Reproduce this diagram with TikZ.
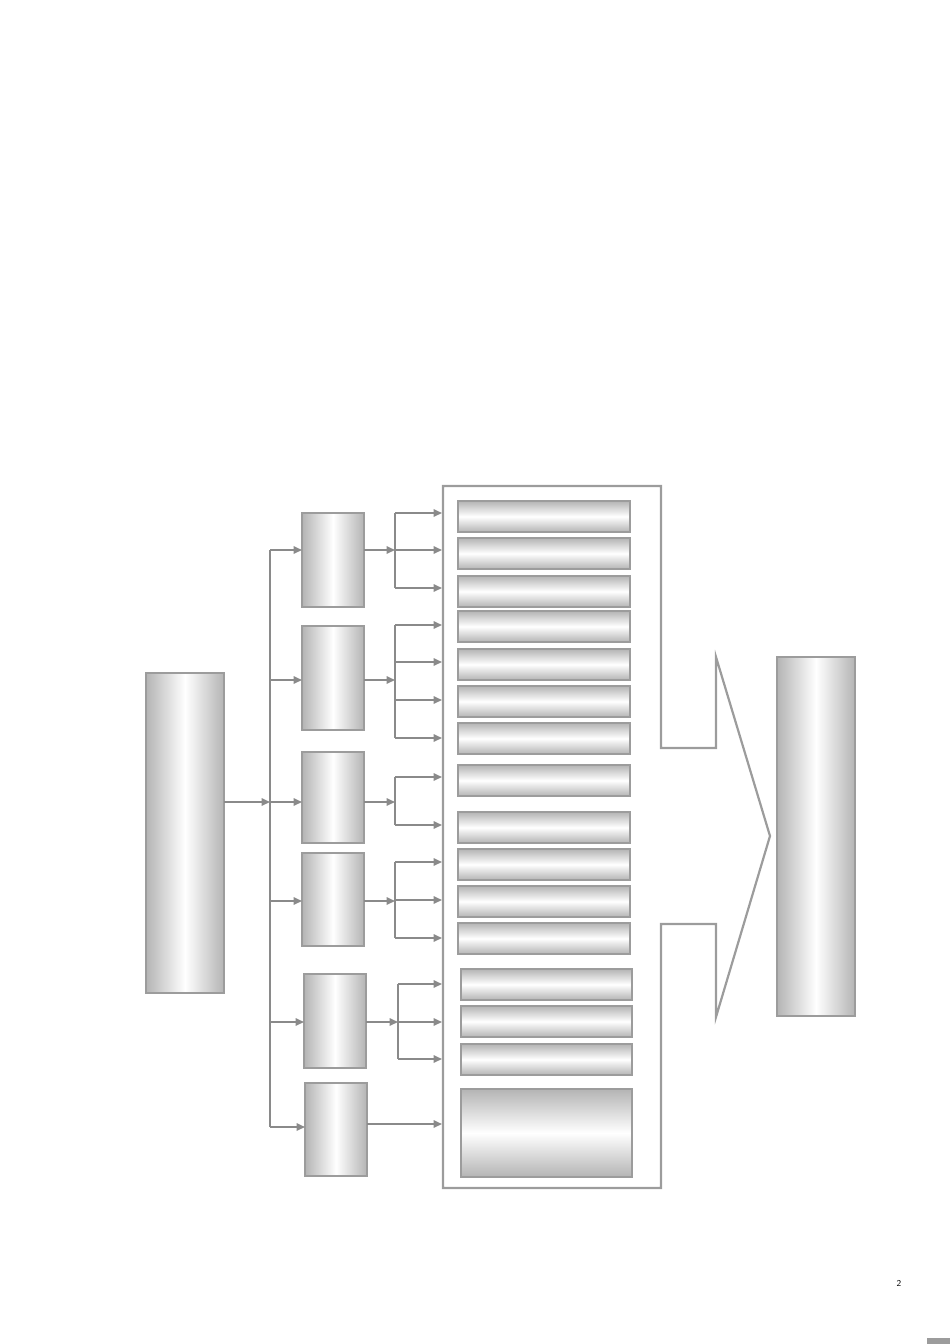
\documentclass[tikz,border=0pt]{standalone}
\usetikzlibrary{arrows.meta}

\definecolor{linegray}{HTML}{8A8A8A}
\definecolor{boxgray}{HTML}{9C9C9C}
\definecolor{shadegray}{HTML}{B4B4B4}

\tikzset{
    conn/.style={draw=linegray, line width=1.7pt},
    arr/.style={conn, -{Triangle[length=8.5pt,width=7.5pt]}},
    colbox/.style={draw=boxgray, line width=1.2pt, inner sep=0pt, outer sep=0pt,
        anchor=north west, left color=shadegray, right color=shadegray, middle color=white},
    barbox/.style={draw=boxgray, line width=1.2pt, inner sep=0pt, outer sep=0pt,
        anchor=north west, top color=shadegray, bottom color=shadegray, middle color=white},
}

\begin{document}
\begin{tikzpicture}[x=1pt, y=-1pt]
    \useasboundingbox (0,0) rectangle (950,1344);

    % Source and result boxes
    \node[colbox, minimum width=78pt, minimum height=320pt] (src) at (146,673) {};
    \node[colbox, minimum width=78pt, minimum height=359pt] (res) at (777,657) {};

    % Middle column
    \node[colbox, minimum width=62pt, minimum height=94pt]  (m1) at (302,513) {};
    \node[colbox, minimum width=62pt, minimum height=104pt] (m2) at (302,626) {};
    \node[colbox, minimum width=62pt, minimum height=91pt]  (m3) at (302,752) {};
    \node[colbox, minimum width=62pt, minimum height=93pt]  (m4) at (302,853) {};
    \node[colbox, minimum width=62pt, minimum height=94pt]  (m5) at (304,974) {};
    \node[colbox, minimum width=62pt, minimum height=93pt]  (m6) at (305,1083) {};

    % Bars inside the frame
    \foreach \name/\y in {b1/501, b2/538, b3/576, b4/611, b5/649, b6/686,
                          b7/723, b8/765, b9/812, b10/849, b11/886, b12/923} {
        \node[barbox, minimum width=172pt, minimum height=31pt] (\name) at (458,\y) {};
    }
    \foreach \name/\y in {b13/969, b14/1006, b15/1044} {
        \node[barbox, minimum width=171pt, minimum height=31pt] (\name) at (461,\y) {};
    }
    \node[barbox, minimum width=171pt, minimum height=88pt] (b16) at (461,1089) {};

    % Frame with the big arrow
    \draw[draw=boxgray, line width=2.2pt, line join=miter]
        (443,486) -- (661,486) -- (661,748) -- (716,748) -- (716,657) -- (770,836)
        -- (716,1017) -- (716,924) -- (661,924) -- (661,1188) -- (443,1188) -- cycle;

    % Bus
    \coordinate (bt) at (270,550);
    \coordinate (bb) at (270,1127);
    \coordinate (bs) at (270,802);
    \draw[conn] (bt) -- (bb);
    \draw[arr] (src.east |- bs) -- (bs);
    \foreach \m/\y in {m1/550, m2/680, m3/802, m4/901, m5/1022, m6/1127} {
        \coordinate (bus-\m) at (270,\y);
        \draw[arr] (bus-\m) -- (bus-\m -| \m.west);
    }

    % Forks into the frame
    \foreach \m/\fx/\y/\top/\bot/\list in {m1/395/550/513/588/{513,550,588},
            m2/395/680/625/738/{625,662,700,738},
            m3/395/802/777/825/{777,825},
            m4/395/901/862/938/{862,900,938},
            m5/398/1022/984/1059/{984,1022,1059}} {
        \coordinate (fk-\m) at (\fx,\y);
        \draw[arr] (\m.east |- fk-\m) -- (fk-\m);
        \draw[conn] (\fx,\top) -- (\fx,\bot);
        \foreach \t in \list {
            \coordinate (in-\m-\t) at (442,\t);
            \draw[arr] (\fx,\t) -- (in-\m-\t);
        }
    }
    \coordinate (in-m6) at (442,1124);
    \draw[arr] (m6.east |- in-m6) -- (in-m6);

    % Page number and corner mark
    \node[font=\sffamily\small] (pg) at (899,1283) {2};
    \fill[linegray!85] (927,1338) rectangle (950,1344);
\end{tikzpicture}
\end{document}
